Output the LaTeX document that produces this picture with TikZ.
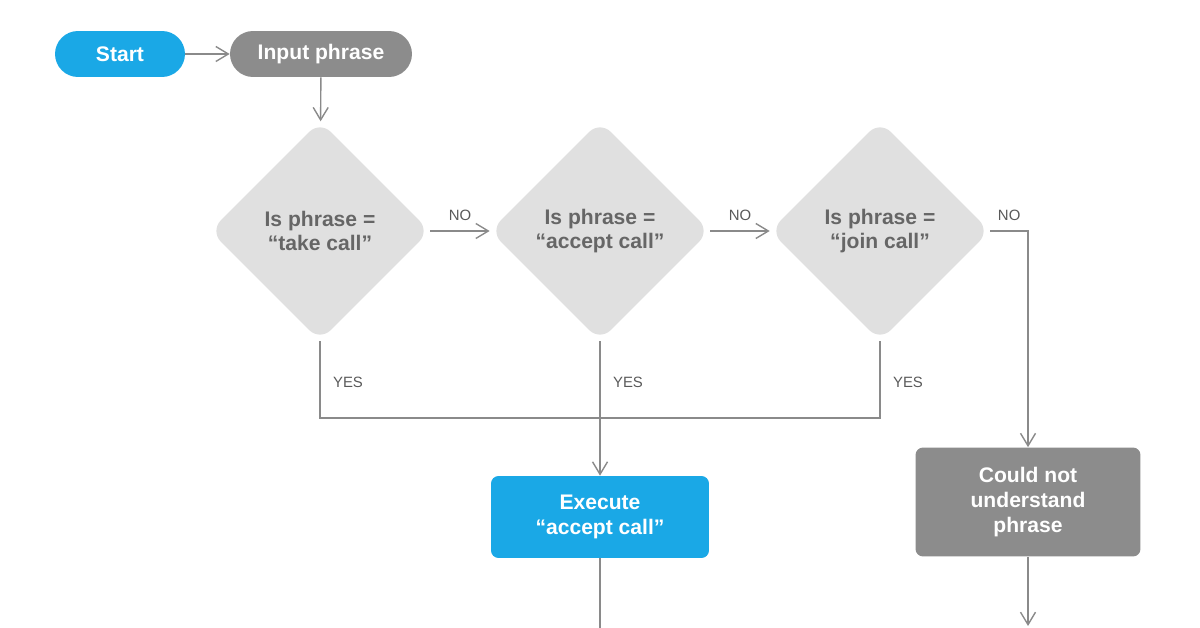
\documentclass[tikz,border=0pt]{standalone}
\usepackage{fontspec}
\setmainfont{Liberation Sans}
\usetikzlibrary{shapes.geometric, arrows.meta}
\definecolor{callblue}{HTML}{1AA8E6}
\definecolor{calldark}{HTML}{8C8C8C}
\definecolor{calllight}{HTML}{E0E0E0}
\definecolor{callline}{HTML}{8A8A8A}
\tikzset{
    pill/.style = {rounded corners = 0.46cm, minimum height = 0.92cm, text = white, font = \bfseries\fontsize{12}{14}\selectfont},
    choice/.style = {diamond, fill = calllight, minimum width = 4.4cm, minimum height = 4.4cm, rounded corners = 0.3cm, inner sep = 0pt, align = center, text = black!60, font = \bfseries\fontsize{12}{14}\selectfont},
    action/.style = {rounded corners = 0.15cm, text = white, align = center, font = \bfseries\fontsize{12}{14}\selectfont},
    link/.style = {draw = callline, thick, -{Straight Barb[length = 2.5mm, width = 3mm]}},
    tag/.style = {text = black!65, font = \fontsize{8.5}{10}\selectfont}
}
\begin{document}
\begin{tikzpicture}[x = 0.02cm, y = -0.02cm]
    \useasboundingbox (0,0) rectangle (1200,628);
    \node[pill, fill = callblue, minimum width = 2.6cm] (start) at (120,54) {Start};
    \node[pill, fill = calldark, minimum width = 3.64cm] (input) at (321,54) {Input phrase};
    \node[choice] (take) at (320,231) {Is phrase =\\``take call''};
    \node[choice] (accept) at (600,231) {Is phrase =\\``accept call''};
    \node[choice] (join) at (880,231) {Is phrase =\\``join call''};
    \node[action, fill = callblue, minimum width = 4.36cm, minimum height = 1.64cm] (execute) at (600,517) {Execute\\``accept call''};
    \node[action, fill = calldark, minimum width = 4.5cm, minimum height = 2.18cm] (fail) at (1028,502) {Could not\\understand\\phrase};
    \coordinate (merge) at (600,418);
    \coordinate (outleft) at (600,628);
    \coordinate (outright) at (1028,626);
    % connectors
    \draw[link] (start) -- (input);
    \draw[link] (input) -- (take);
    \draw[link] (take) -- node[tag, above = 2pt] {NO} (accept);
    \draw[link] (accept) -- node[tag, above = 2pt] {NO} (join);
    \draw[link] (join.east) -- node[tag, above = 2pt] {NO} (join.east -| fail.north) -- (fail);
    \draw[draw = callline, thick] (take.south) -- (take.south |- merge) -- (join.south |- merge) -- (join.south);
    \draw[link] (accept.south) -- (execute);
    \draw[draw = callline, thick] (execute) -- (outleft);
    \draw[link] (fail) -- (outright);
    \foreach \n in {take, accept, join}
        \node[tag] at ([xshift = 0.56cm, yshift = -0.82cm] \n.south) {YES};
\end{tikzpicture}
\end{document}
